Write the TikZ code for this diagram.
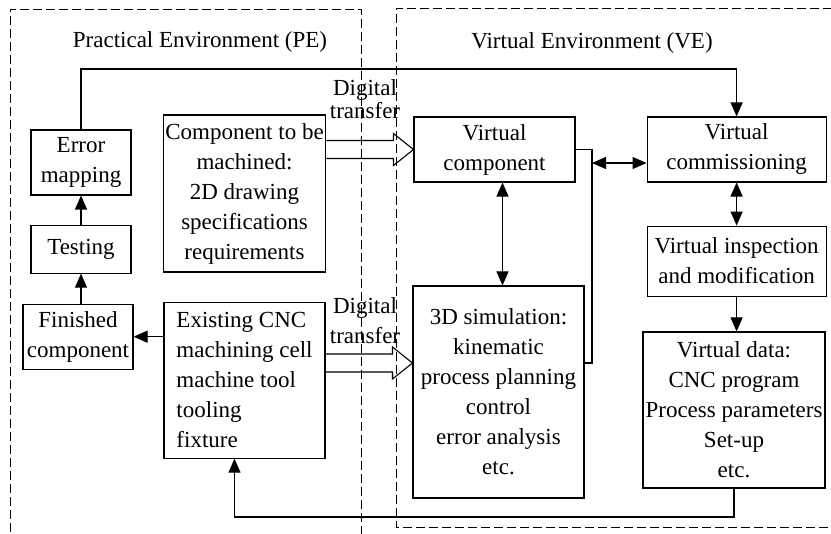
\documentclass[tikz,border=0pt]{standalone}
\usepackage{fontspec}
\setmainfont{Liberation Serif}
\usetikzlibrary{arrows.meta,positioning,calc}

% hollow block arrow: #1 start on the box side, #2 tip (same height)
\newcommand{\fatarrow}[2]{%
  \draw[line width=1.1pt] ($(#1)+(0,-9)$) -- ($(#2)+(-20,-9)$) -- ($(#2)+(-20,-16)$)
    -- (#2) -- ($(#2)+(-20,16)$) -- ($(#2)+(-20,9)$) -- ($(#1)+(0,9)$);}

\begin{document}
\begin{tikzpicture}[x=1pt, y=-1pt,
    font=\fontsize{23}{30}\selectfont,
    node distance=29pt and 71pt,
    block/.style={draw, line width=1.1pt, inner sep=2pt, align=center},
    arrow/.style={-{Triangle[length=14pt,width=12pt]}, line width=1.1pt},
    dblarrow/.style={{Triangle[length=14pt,width=12pt]}-{Triangle[length=14pt,width=12pt]}, line width=1.1pt},
    region/.style={dash pattern=on 9pt off 4pt, line width=0.9pt}
  ]
    \useasboundingbox (0,0) rectangle (831,534);
    \clip (0,0) rectangle (831,534);

    % the two environments
    \draw[region] (10,545) -- (10,9) -- (361,9) -- (361,545);
    \draw[region] (845,8) -- (396,8) -- (396,527) -- (845,527);
    \node (pe) at (200,42) {Practical Environment (PE)};
    \node (ve) at (592,43) {Virtual Environment (VE)};

    % practical side
    \node[block, minimum width=100pt, minimum height=65pt] (errmap) at (81,162.5) {Error\\mapping};
    \node[block, minimum width=100pt, minimum height=48pt, below=of errmap] (testing) {Testing};
    \node[block, minimum width=110pt, minimum height=65pt, below=30pt of testing, xshift=-3pt] (finished) {Finished\\component};
    \node[block, minimum width=161pt, minimum height=157pt] (comp) at (244.5,193.5) {Component to be\\machined:\\2D drawing\\specifications\\requirements};
    \node[block, align=left, minimum width=161pt, minimum height=156pt, below=of comp] (cnc) {Existing CNC\\machining cell\\machine tool\\tooling\\fixture};

    % virtual side
    \node[block, minimum width=161pt, minimum height=65pt] (vcomp) at (494.5,149.5) {Virtual\\component};
    \node[block, minimum width=179pt, minimum height=65pt, right=of vcomp] (vcomm) {Virtual\\commissioning};
    \node[block, minimum width=179pt, minimum height=70pt, below=43pt of vcomm] (vinsp) {Virtual inspection\\and modification};
    \node[block, minimum width=171pt, minimum height=212pt] (sim) at (498.5,392) {3D simulation:\\kinematic\\process planning\\control\\error analysis\\etc.};
    \node[block, minimum width=182pt, minimum height=156pt] (vdata) at (734,410) {Virtual data:\\CNC program\\Process parameters\\Set-up\\etc.};

    \node[align=center, font=\fontsize{23}{23}\selectfont] (dt1) at (365,99) {Digital\\transfer};
    \node[align=center] (dt2) at (365,321) {Digital\\transfer};

    % digital transfer
    \coordinate (a1) at (comp.east |- vcomp.west);
    \fatarrow{a1}{vcomp.west}
    \coordinate (dt2y) at (0,363);
    \coordinate (a2) at (cnc.east |- dt2y);
    \coordinate (b2) at (sim.west |- dt2y);
    \fatarrow{a2}{b2}

    % connectors
    \coordinate (looptop) at (0,69);
    \coordinate (loopbot) at (0,517);
    \coordinate (bus) at (592,163);
    \draw[arrow] (errmap.north) -- (errmap.north |- looptop) -| (vcomm.north);
    \draw[arrow] (testing) -- (errmap);
    \draw[arrow] (finished.north -| testing) -- (testing.south);
    \draw[arrow] (cnc.west |- finished) -- (finished.east);
    \draw[dblarrow] ([xshift=8pt]vcomp.south) -- ([xshift=8pt]vcomp.south |- sim.north);
    \draw[line width=1.1pt] (vcomp.east) -| (bus) |- ([yshift=29pt]sim.east);
    \draw[dblarrow] (bus) -- (bus -| vcomm.west);
    \draw[dblarrow] (vcomm) -- (vinsp);
    \draw[arrow] (vinsp) -- (vinsp |- vdata.north);
    \draw[arrow] (vdata.south) -- (vdata.south |- loopbot) -| ([xshift=-10pt]cnc.south);
  \end{tikzpicture}
\end{document}
